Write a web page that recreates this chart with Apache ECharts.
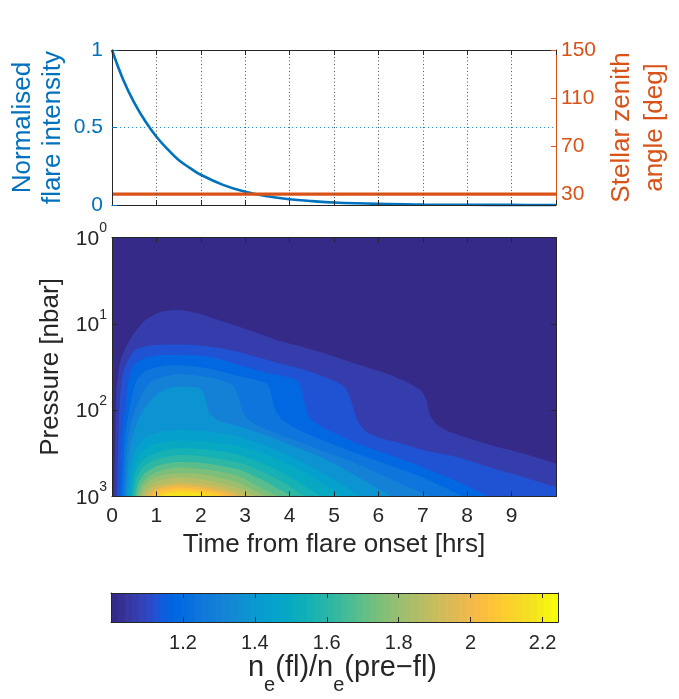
<!DOCTYPE html>
<html>
<head>
<meta charset="utf-8">
<title>Flare response</title>
<script src="https://cdn.jsdelivr.net/npm/echarts@6.0.0/dist/echarts.min.js"></script>
<style>
html,body{margin:0;padding:0;background:#ffffff;}
#chart{width:679px;height:699px;}
</style>
</head>
<body>
<div id="chart"></div>
<script>
// ---------------- data ----------------
const timeHrs = [0,0.25,0.5,0.75,1,1.25,1.5,1.75,2,2.5,3,3.5,4,4.5,5,6,7,8,9,10];
const flareIntensity = [1,0.81,0.66,0.54,0.44,0.36,0.29,0.24,0.195,0.13,0.085,0.056,0.037,0.025,0.016,0.007,0.003,0.0013,0.0006,0.0003];
const zenithTime = [0,10];
const zenithAngle = [30,30];
const zenithTicks = [30,70,110,150];
const timeTicks = [0,1,2,3,4,5,6,7,8,9];
const ratioTicks = [1.2,1.4,1.6,1.8,2,2.2];
const ratioRange = [1.0,2.243];

// contour levels of ne(fl)/ne(pre-fl) and the boundary of each level:
// pairs of [time (hrs), log10(pressure / nbar)] ; values >= level lie below the boundary
const contourLevels = [1.062,1.124,1.186,1.248,1.31,1.372,1.434,1.496,1.558,1.62,1.682,1.744,1.806,1.868,1.93,1.992,2.054,2.116,2.178];
const boundary01 = [[0.05,3.0],[0.06,2.6],[0.075,2.15],[0.10,1.77],[0.16,1.5],[0.22,1.38],[0.44,1.15],[0.74,0.96],[1.11,0.86],[1.49,0.84],[1.94,0.88],[2.54,0.98],[3.29,1.11],[3.78,1.2],[4.23,1.26],[4.9,1.36],[5.42,1.45],[6.03,1.55],[6.25,1.59],[6.7,1.69],[6.95,1.77],[7.08,1.88],[7.15,2.04],[7.3,2.16],[7.6,2.25],[8.5,2.4],[9.25,2.5],[10,2.62]];
const boundary02 = [[0.12,3.0],[0.13,2.6],[0.15,2.2],[0.18,1.88],[0.22,1.65],[0.29,1.5],[0.52,1.3],[0.89,1.25],[1.5,1.24],[1.98,1.25],[2.43,1.28],[2.88,1.33],[3.63,1.44],[4.38,1.54],[5.0,1.66],[5.25,1.74],[5.36,1.85],[5.45,2.0],[5.55,2.14],[5.75,2.26],[6.1,2.33],[6.48,2.38],[7.0,2.46],[7.75,2.54],[8.5,2.66],[9.24,2.77],[10,2.89]];
const boundary03 = [[0.18,3.0],[0.2,2.6],[0.23,2.3],[0.28,2.05],[0.33,1.85],[0.39,1.6],[0.52,1.46],[0.82,1.38],[1.19,1.36],[1.5,1.36],[2.2,1.38],[2.88,1.48],[3.5,1.57],[4.1,1.64],[4.22,1.7],[4.3,1.84],[4.38,2.0],[4.5,2.12],[4.76,2.2],[5.5,2.38],[6.48,2.56],[7.0,2.66],[7.75,2.82],[8.2,2.93],[8.5,3.0]];
const boundary04 = [[0.23,3.0],[0.26,2.6],[0.3,2.3],[0.37,2.05],[0.45,1.84],[0.56,1.65],[0.74,1.55],[1.11,1.49],[1.5,1.48],[2.2,1.52],[2.88,1.61],[3.45,1.68],[3.55,1.75],[3.62,1.9],[3.7,2.02],[3.85,2.12],[4.38,2.27],[5.5,2.5],[6.48,2.68],[7.0,2.78],[7.5,2.9],[7.9,3.0]];
const boundary05 = [[0.28,3.0],[0.31,2.6],[0.37,2.3],[0.47,2.07],[0.62,1.88],[0.82,1.7],[1.11,1.62],[1.49,1.58],[2.2,1.62],[2.7,1.7],[2.8,1.78],[2.88,1.9],[2.97,2.04],[3.15,2.14],[3.6,2.25],[4.38,2.4],[5.0,2.52],[5.5,2.62],[6.0,2.73],[6.5,2.85],[7.0,2.96],[7.15,3.0]];
const boundary06 = [[0.32,3.0],[0.36,2.62],[0.45,2.33],[0.6,2.1],[0.8,1.93],[1.0,1.82],[1.2,1.76],[1.42,1.73],[1.95,1.74],[2.06,1.8],[2.13,1.92],[2.2,2.04],[2.4,2.12],[2.88,2.19],[3.5,2.3],[4.0,2.4],[4.5,2.5],[5.0,2.62],[5.5,2.76],[6.0,2.91],[6.3,3.0]];
const boundary07 = [[0.36,3.0],[0.41,2.7],[0.53,2.46],[0.78,2.31],[1.1,2.25],[1.5,2.23],[2.0,2.24],[2.5,2.27],[2.88,2.31],[3.5,2.42],[4.0,2.53],[4.5,2.66],[5.0,2.8],[5.4,2.93],[5.6,3.0]];
const boundary08 = [[0.4,3.0],[0.46,2.73],[0.61,2.52],[0.9,2.4],[1.5,2.35],[2.0,2.36],[2.5,2.39],[2.88,2.42],[3.5,2.52],[4.0,2.63],[4.5,2.77],[4.9,2.9],[5.2,3.0]];
const boundary09 = [[0.44,3.0],[0.5,2.77],[0.65,2.6],[1.0,2.49],[1.5,2.44],[2.0,2.45],[2.5,2.48],[2.88,2.52],[3.5,2.64],[4.0,2.77],[4.45,2.92],[4.7,3.0]];
const boundary10 = [[0.48,3.0],[0.55,2.8],[0.7,2.66],[1.0,2.57],[1.5,2.52],[2.0,2.53],[2.5,2.57],[2.88,2.61],[3.5,2.74],[4.0,2.88],[4.35,3.0]];
const boundary11 = [[0.52,3.0],[0.6,2.84],[0.76,2.72],[1.05,2.64],[1.5,2.6],[2.0,2.61],[2.5,2.65],[2.88,2.69],[3.5,2.84],[4.05,3.0]];
const boundary12 = [[0.57,3.0],[0.65,2.87],[0.81,2.77],[1.1,2.7],[1.5,2.66],[2.0,2.68],[2.5,2.72],[2.88,2.77],[3.35,2.9],[3.75,3.0]];
const boundary13 = [[0.62,3.0],[0.7,2.9],[0.86,2.81],[1.15,2.75],[1.5,2.73],[2.0,2.74],[2.5,2.79],[2.88,2.85],[3.2,2.93],[3.5,3.0]];
const boundary14 = [[0.68,3.0],[0.76,2.92],[0.92,2.85],[1.2,2.8],[1.5,2.78],[2.0,2.8],[2.5,2.85],[2.88,2.91],[3.25,3.0]];
const boundary15 = [[0.74,3.0],[0.82,2.94],[1.0,2.88],[1.5,2.84],[2.0,2.85],[2.5,2.9],[2.85,2.96],[3.05,3.0]];
const boundary16 = [[0.8,3.0],[0.9,2.95],[1.1,2.9],[1.5,2.87],[2.0,2.89],[2.5,2.94],[2.85,3.0]];
const boundary17 = [[0.88,3.0],[1.0,2.95],[1.2,2.92],[1.5,2.9],[2.0,2.92],[2.4,2.96],[2.65,3.0]];
const boundary18 = [[0.97,3.0],[1.1,2.96],[1.5,2.93],[2.0,2.94],[2.3,2.97],[2.45,3.0]];
const boundary19 = [[1.1,3.0],[1.25,2.97],[1.6,2.955],[1.95,2.965],[2.2,3.0]];
const boundaries = [boundary01,boundary02,boundary03,boundary04,boundary05,boundary06,boundary07,boundary08,boundary09,boundary10,boundary11,boundary12,boundary13,boundary14,boundary15,boundary16,boundary17,boundary18,boundary19];

// ---------------- styling ----------------
const parula = [
[0.2081,0.1663,0.5292],[0.2116,0.1898,0.5777],[0.2123,0.2138,0.6270],[0.2081,0.2386,0.6771],
[0.1959,0.2645,0.7279],[0.1707,0.2919,0.7792],[0.1253,0.3242,0.8303],[0.0591,0.3598,0.8683],
[0.0117,0.3875,0.8820],[0.0060,0.4086,0.8828],[0.0165,0.4266,0.8786],[0.0329,0.4430,0.8720],
[0.0498,0.4586,0.8641],[0.0629,0.4737,0.8554],[0.0723,0.4887,0.8467],[0.0779,0.5040,0.8384],
[0.0793,0.5200,0.8312],[0.0749,0.5375,0.8263],[0.0641,0.5570,0.8240],[0.0488,0.5772,0.8228],
[0.0343,0.5966,0.8199],[0.0265,0.6137,0.8135],[0.0239,0.6287,0.8038],[0.0231,0.6418,0.7913],
[0.0228,0.6535,0.7768],[0.0267,0.6642,0.7607],[0.0384,0.6743,0.7436],[0.0590,0.6838,0.7254],
[0.0843,0.6928,0.7062],[0.1133,0.7015,0.6859],[0.1453,0.7098,0.6646],[0.1801,0.7177,0.6424],
[0.2178,0.7250,0.6193],[0.2586,0.7317,0.5954],[0.3022,0.7376,0.5712],[0.3482,0.7424,0.5473],
[0.3953,0.7459,0.5244],[0.4420,0.7481,0.5033],[0.4871,0.7491,0.4840],[0.5300,0.7491,0.4661],
[0.5709,0.7485,0.4494],[0.6099,0.7473,0.4337],[0.6473,0.7456,0.4188],[0.6834,0.7435,0.4044],
[0.7184,0.7411,0.3905],[0.7525,0.7384,0.3768],[0.7858,0.7356,0.3633],[0.8185,0.7327,0.3498],
[0.8507,0.7299,0.3360],[0.8824,0.7274,0.3217],[0.9139,0.7258,0.3063],[0.9450,0.7261,0.2886],
[0.9739,0.7314,0.2666],[0.9938,0.7455,0.2403],[0.9990,0.7653,0.2164],[0.9955,0.7861,0.1967],
[0.9880,0.8066,0.1794],[0.9789,0.8271,0.1633],[0.9697,0.8481,0.1475],[0.9626,0.8705,0.1309],
[0.9589,0.8949,0.1132],[0.9598,0.9218,0.0948],[0.9661,0.9514,0.0755],[0.9763,0.9831,0.0538]];
function rowColor(i){const c=parula[Math.max(0,Math.min(63,i))];return 'rgb('+c.map(x=>Math.round(x*255)).join(',')+')';}
function valueColor(v){return rowColor(Math.floor((v-ratioRange[0])/(ratioRange[1]-ratioRange[0])*64));}

const FONT = '"Liberation Sans", Arial, Helvetica, sans-serif';
const INK = '#262626';
const BLUE = '#0072BD';
const ORANGE = '#D95319';

// colour-bar cells (one per colormap row)
const cbCells = parula.map((c,i)=>{const w=(ratioRange[1]-ratioRange[0])/64;return [ratioRange[0]+i*w, ratioRange[0]+(i+1)*w, i];});

const chart = echarts.init(document.getElementById('chart'), null, {renderer:'canvas'});

const frameAxis = (extra) => Object.assign({
  type:'value', z:10, nameMoveOverlap:false,
  axisLine:{show:true,onZero:false,lineStyle:{color:INK,width:1}},
  axisTick:{show:true,inside:true,length:5,lineStyle:{color:INK,width:1}},
  axisLabel:{show:false},
  splitLine:{show:false}
}, extra);

const series = [];
series.push({
  type:'line', xAxisIndex:0, yAxisIndex:0, name:'intensity',
  data: timeHrs.map((t,i)=>[t,flareIntensity[i]]),
  smooth:0.4, showSymbol:false, clip:false,
  lineStyle:{color:BLUE,width:2.6}, itemStyle:{color:BLUE},
  markLine:{silent:true,symbol:'none',label:{show:false},animation:false,
    lineStyle:{color:'#2F8FD8',type:[1.2,2.8],width:1.2},data:[{yAxis:0.5}]}
});
series.push({
  type:'line', xAxisIndex:0, yAxisIndex:1, name:'zenith',
  data: zenithTime.map((t,i)=>[t,zenithAngle[i]]),
  showSymbol:false, clip:false,
  lineStyle:{color:ORANGE,width:3.2}, itemStyle:{color:ORANGE}
});
boundaries.forEach((b,k)=>{
  const col = valueColor(contourLevels[k]);
  series.push({
    type:'line', xAxisIndex:2, yAxisIndex:2, name:'level'+(k+1),
    data:b, smooth:0.25, showSymbol:false, silent:true,
    lineStyle:{width:0,opacity:0}, itemStyle:{color:col},
    areaStyle:{color:col,opacity:1,origin:'end'}, z:2+k*0.01
  });
});
series.push({
  type:'custom', xAxisIndex:4, yAxisIndex:4, data:cbCells, silent:true,
  encode:{x:[0,1]},
  renderItem:(params,api)=>{
    const p0=api.coord([api.value(0),0]);
    const p1=api.coord([api.value(1),1]);
    return {type:'rect',shape:{x:p0[0],y:p1[1],width:p1[0]-p0[0]+0.6,height:p0[1]-p1[1]},
      style:{fill:rowColor(api.value(2))}};
  }
});

const option = {
  animation:false,
  backgroundColor:'#ffffff',
  textStyle:{fontFamily:FONT},
  grid:[
    {left:112,top:50,width:444,height:155,containLabel:false,outerBoundsMode:'none'},
    {left:112,top:237.5,width:444,height:259,containLabel:false,outerBoundsMode:'none',show:true,backgroundColor:rowColor(0),borderWidth:0},
    {left:111,top:593,width:447,height:29,containLabel:false,outerBoundsMode:'none'}
  ],
  xAxis:[
    frameAxis({gridIndex:0,position:'bottom',min:0,max:10,interval:1,
      splitLine:{show:true,lineStyle:{color:'#555',type:[1,2.5],width:1}}}),
    frameAxis({gridIndex:0,position:'top',min:0,max:10,interval:1}),
    frameAxis({gridIndex:1,position:'bottom',min:0,max:10,interval:1,
      axisLabel:{show:true,customValues:timeTicks,color:INK,fontSize:21,margin:9,fontFamily:FONT},
      name:'Time from flare onset [hrs]',nameLocation:'middle',nameGap:35,
      nameTextStyle:{color:INK,fontSize:26,fontFamily:FONT}}),
    frameAxis({gridIndex:1,position:'top',min:0,max:10,interval:1}),
    frameAxis({gridIndex:2,position:'bottom',min:ratioRange[0],max:ratioRange[1],
      axisTick:{show:true,inside:true,length:5,customValues:ratioTicks,lineStyle:{color:INK}},
      axisLabel:{show:true,customValues:ratioTicks,color:INK,fontSize:20,margin:11,fontFamily:FONT,
        formatter:v=>String(Math.round(v*10)/10)},
      name:'{m|n}{s|e}{m|(fl)/n}{s|e}{m|(pre\u2212fl)}',nameLocation:'middle',nameGap:31,
      nameTextStyle:{color:INK,fontFamily:FONT,padding:[0,0,0,16],rich:{
        m:{fontSize:29,lineHeight:32,verticalAlign:'top',color:INK,fontFamily:FONT},
        s:{fontSize:20,lineHeight:20,padding:[22,0,0,0],verticalAlign:'top',color:INK,fontFamily:FONT}}}}),
    frameAxis({gridIndex:2,position:'top',min:ratioRange[0],max:ratioRange[1],
      axisTick:{show:true,inside:true,length:5,customValues:ratioTicks,lineStyle:{color:INK}}})
  ],
  yAxis:[
    frameAxis({gridIndex:0,position:'left',min:0,max:1,interval:0.5,
      axisTick:{show:true,inside:true,length:5,lineStyle:{color:BLUE}},
      axisLabel:{show:true,color:BLUE,fontSize:21,margin:9,fontFamily:FONT},
      name:'Normalised\nflare intensity',nameLocation:'middle',nameRotate:90,nameGap:44,
      nameTextStyle:{color:BLUE,fontSize:26,lineHeight:30,fontFamily:FONT}}),
    frameAxis({gridIndex:0,position:'right',min:21,max:150,
      axisLine:{show:true,onZero:false,lineStyle:{color:ORANGE,width:1}},
      axisTick:{show:true,inside:true,length:5,customValues:zenithTicks,lineStyle:{color:ORANGE}},
      axisLabel:{show:true,customValues:zenithTicks,color:ORANGE,fontSize:21,margin:5,fontFamily:FONT},
      name:'Stellar zenith\nangle [deg]',nameLocation:'middle',nameRotate:90,nameGap:49,
      nameTextStyle:{color:ORANGE,fontSize:26,lineHeight:33,fontFamily:FONT}}),
    frameAxis({gridIndex:1,position:'left',min:0,max:3,interval:1,inverse:true,
      axisLabel:{show:true,margin:5,formatter:v=>'{b|10}{s|'+v+'}',
        rich:{b:{fontSize:21,lineHeight:24,verticalAlign:'bottom',color:INK,fontFamily:FONT},
              s:{fontSize:14,lineHeight:14,padding:[0,0,14,0],verticalAlign:'bottom',color:INK,fontFamily:FONT}}},
      name:'Pressure [nbar]',nameLocation:'middle',nameRotate:90,nameGap:48,
      nameTextStyle:{color:INK,fontSize:26,fontFamily:FONT}}),
    frameAxis({gridIndex:1,position:'right',min:0,max:3,interval:1,inverse:true}),
    frameAxis({gridIndex:2,position:'left',min:0,max:1,axisTick:{show:false}}),
    frameAxis({gridIndex:2,position:'right',min:0,max:1,axisTick:{show:false}})
  ],
  series:series
};
chart.setOption(option);
</script>
</body>
</html>
